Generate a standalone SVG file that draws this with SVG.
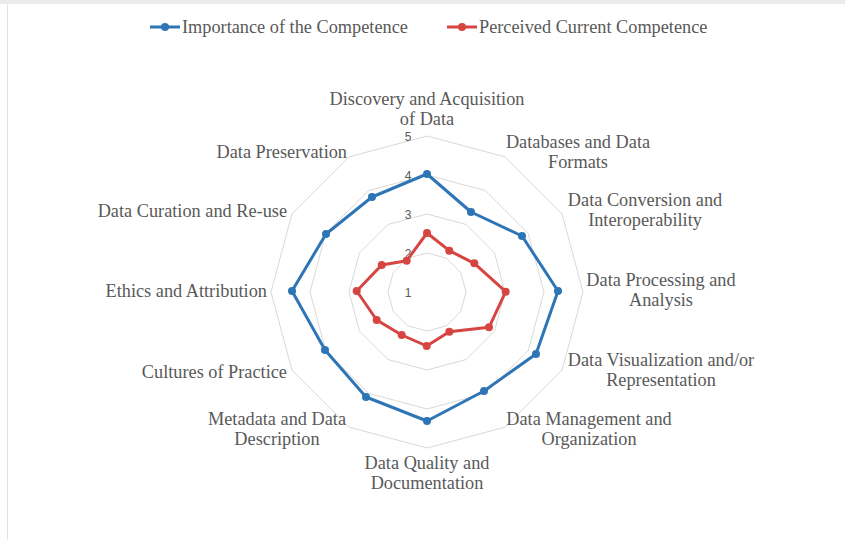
<svg xmlns="http://www.w3.org/2000/svg" width="845" height="540" viewBox="0 0 845 540">
<style>
.ring{fill:none;stroke:#D9D9D9;stroke-width:1}
.tick{font-family:"Liberation Sans",Arial,sans-serif;font-size:12px;fill:#595959;text-anchor:middle}
.lbl{font-family:"Liberation Serif","Times New Roman",serif;font-size:18.3px;fill:#595959}
.c{text-anchor:middle}
.r{text-anchor:end}
.blue{fill:none;stroke:#2E75B6;stroke-width:3;stroke-linejoin:round}
.red{fill:none;stroke:#D64541;stroke-width:3;stroke-linejoin:round}
.bm{fill:#2E75B6}
.rm{fill:#D64541}
</style>
<rect x="0" y="0" width="845" height="540" fill="#FFFFFF"/>
<rect x="0" y="0" width="845" height="4" fill="#EBEBEB"/>
<line x1="7.5" y1="4" x2="7.5" y2="540" stroke="#E3E3E3" stroke-width="1"/>

<g id="grid">
<polygon class="ring" points="427,253 446.5,258.23 460.77,272.5 466,292 460.77,311.5 446.5,325.77 427,331 407.5,325.77 393.23,311.5 388,292 393.23,272.5 407.5,258.23"/>
<polygon class="ring" points="427,214 466,224.45 494.55,253 505,292 494.55,331 466,359.55 427,370 388,359.55 359.45,331 349,292 359.45,253 388,224.45"/>
<polygon class="ring" points="427,175 485.5,190.68 528.32,233.5 544,292 528.32,350.5 485.5,393.32 427,409 368.5,393.32 325.68,350.5 310,292 325.68,233.5 368.5,190.68"/>
<polygon class="ring" points="427,136 505,156.9 562.1,214 583,292 562.1,370 505,427.1 427,448 349,427.1 291.9,370 271,292 291.9,214 349,156.9"/>
</g>

<g id="axis-ticks">
<text class="tick" x="408" y="141">5</text>
<text class="tick" x="408" y="180">4</text>
<text class="tick" x="408" y="219">3</text>
<text class="tick" x="408" y="258">2</text>
<text class="tick" x="408" y="297">1</text>
</g>

<g id="series-importance">
<polygon class="blue" points="427,174 471,212 522,236 558,291 536,354 484,391 427,421 366,397 325,350 292,291 326,234 372,197"/>
<g class="bm">
<circle cx="427" cy="174" r="4"/><circle cx="471" cy="212" r="4"/><circle cx="522" cy="236" r="4"/><circle cx="558" cy="291" r="4"/>
<circle cx="536" cy="354" r="4"/><circle cx="484" cy="391" r="4"/><circle cx="427" cy="421" r="4"/><circle cx="366" cy="397" r="4"/>
<circle cx="325" cy="350" r="4"/><circle cx="292" cy="291" r="4"/><circle cx="326" cy="234" r="4"/><circle cx="372" cy="197" r="4"/>
</g>
</g>

<g id="series-perceived">
<polygon class="red" points="427,233 449.3,250.7 474.3,263.3 505.7,291.7 489,327.3 449.3,331.7 426.7,346 401.7,335 376.7,320 356.7,291 381.7,265 406.7,260.7"/>
<g class="rm">
<circle cx="427" cy="233" r="4"/><circle cx="449.3" cy="250.7" r="4"/><circle cx="474.3" cy="263.3" r="4"/><circle cx="505.7" cy="291.7" r="4"/>
<circle cx="489" cy="327.3" r="4"/><circle cx="449.3" cy="331.7" r="4"/><circle cx="426.7" cy="346" r="4"/><circle cx="401.7" cy="335" r="4"/>
<circle cx="376.7" cy="320" r="4"/><circle cx="356.7" cy="291" r="4"/><circle cx="381.7" cy="265" r="4"/><circle cx="406.7" cy="260.7" r="4"/>
</g>
</g>

<g id="categories">
<g id="cat-discovery"><text class="lbl c" x="427" y="105">Discovery and Acquisition</text><text class="lbl c" x="427" y="125">of Data</text></g>
<g id="cat-databases"><text class="lbl c" x="578" y="148">Databases and Data</text><text class="lbl c" x="578" y="168">Formats</text></g>
<g id="cat-conversion"><text class="lbl c" x="645" y="206">Data Conversion and</text><text class="lbl c" x="645" y="226">Interoperability</text></g>
<g id="cat-processing"><text class="lbl c" x="661" y="286">Data Processing and</text><text class="lbl c" x="661" y="306">Analysis</text></g>
<g id="cat-visualization"><text class="lbl c" x="661" y="366">Data Visualization and/or</text><text class="lbl c" x="661" y="386">Representation</text></g>
<g id="cat-management"><text class="lbl c" x="589" y="425">Data Management and</text><text class="lbl c" x="589" y="445">Organization</text></g>
<g id="cat-quality"><text class="lbl c" x="427" y="469">Data Quality and</text><text class="lbl c" x="427" y="489">Documentation</text></g>
<g id="cat-metadata"><text class="lbl c" x="277" y="425">Metadata and Data</text><text class="lbl c" x="277" y="445">Description</text></g>
<g id="cat-cultures"><text class="lbl r" x="287" y="378">Cultures of Practice</text></g>
<g id="cat-ethics"><text class="lbl r" x="267" y="297">Ethics and Attribution</text></g>
<g id="cat-curation"><text class="lbl r" x="287" y="217">Data Curation and Re-use</text></g>
<g id="cat-preservation"><text class="lbl r" x="347" y="158">Data Preservation</text></g>
</g>

<g id="legend">
<g id="legend-importance">
<line x1="150" y1="27" x2="180" y2="27" stroke="#2E75B6" stroke-width="3"/>
<circle class="bm" cx="165" cy="27" r="4"/>
<text class="lbl" x="182" y="33">Importance of the Competence</text>
</g>
<g id="legend-perceived">
<line x1="447" y1="27" x2="477" y2="27" stroke="#D64541" stroke-width="3"/>
<circle class="rm" cx="462" cy="27" r="4"/>
<text class="lbl" x="479" y="33">Perceived Current Competence</text>
</g>
</g>
</svg>
